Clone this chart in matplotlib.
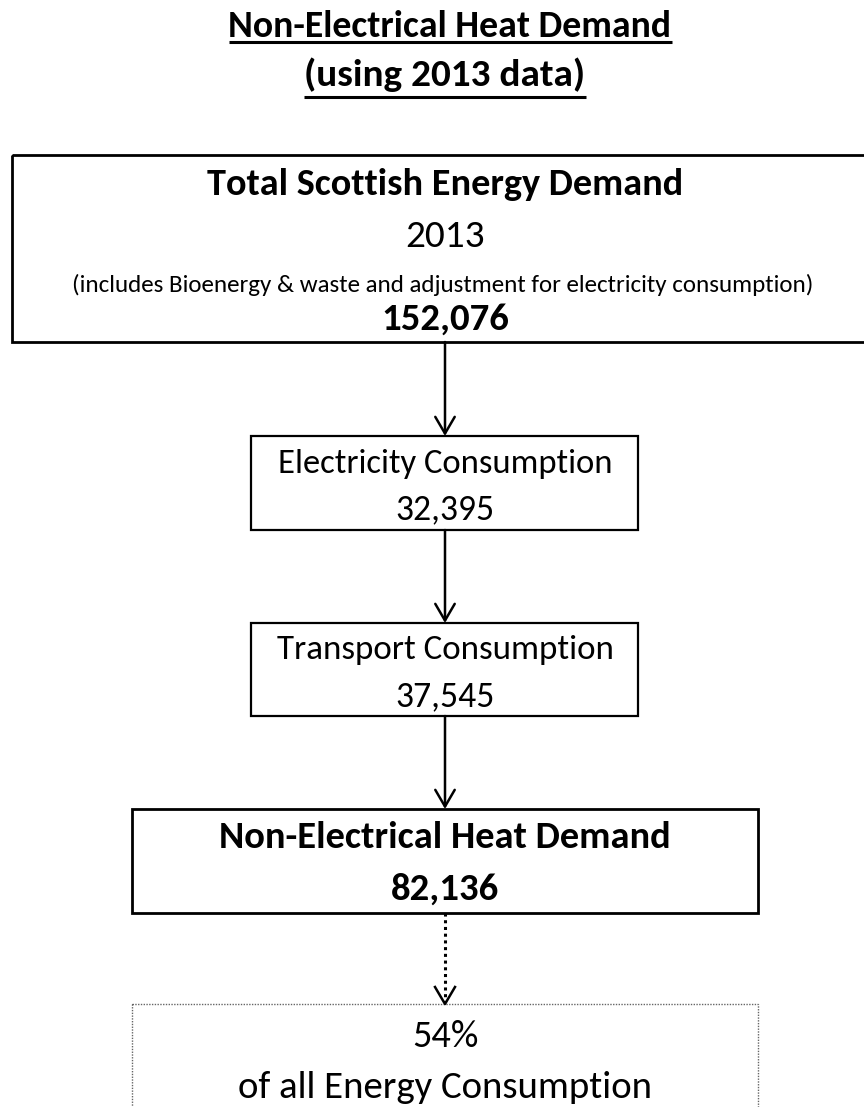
import matplotlib
matplotlib.use("Agg")
import matplotlib.pyplot as plt
from matplotlib.patches import Rectangle

# ---- data ----
title_lines = ["Non-Electrical Heat Demand", "(using 2013 data)"]
box_labels = ["Total Scottish Energy Demand", "Electricity Consumption",
              "Transport Consumption", "Non-Electrical Heat Demand"]
box_values = [152076, 32395, 37545, 82136]
year = 2013
note = "(includes Bioenergy & waste and adjustment for electricity consumption)"
share_pct = 54
share_text = "of all Energy Consumption"

FONT = ["Carlito", "Lato", "DejaVu Sans"]
W, H = 864, 1107
fig = plt.figure(figsize=(W / 100, H / 100), dpi=100)
ax = fig.add_axes([0, 0, 1, 1])
ax.set_xlim(0, W)
ax.set_ylim(H, 0)
ax.axis("off")
renderer = fig.canvas.get_renderer()


def fitted(x, y, s, width, bold=False, underline=False, ul_y=None):
    t = ax.text(x, y, s, ha="center", va="baseline", fontsize=20,
                family=FONT, fontweight="bold" if bold else "normal", color="black")
    bb = t.get_window_extent(renderer)
    t.set_fontsize(20 * width / bb.width)
    if underline:
        bb = t.get_window_extent(renderer)
        ax.plot([x - bb.width / 2, x + bb.width / 2], [ul_y, ul_y], color="black", lw=2.2,
                solid_capstyle="butt")
    return t


def arrow(x, y0, y1, dotted=False):
    if dotted:
        ax.plot([x, x], [y0, y1 - 2], color="black", lw=2.2, linestyle=(0, (1, 1.2)))
        ax.plot([x - 10, x, x + 10], [y1 - 17, y1, y1 - 17], color="black", lw=1.8)
    else:
        ax.annotate("", xy=(x, y1), xytext=(x, y0),
                    arrowprops=dict(arrowstyle="->,head_length=0.6,head_width=0.35",
                                    mutation_scale=20, lw=1.8, color="black",
                                    shrinkA=0, shrinkB=0))


def box(x0, y0, x1, y1, lw=1.6, ls="-", ec="black"):
    ax.add_patch(Rectangle((x0, y0), x1 - x0, y1 - y0, fill=False, lw=lw,
                           linestyle=ls, edgecolor=ec, clip_on=True))


cx = 445

# title
fitted(450, 37, title_lines[0], 444, bold=True, underline=True, ul_y=42)
fitted(445, 86, title_lines[1], 281, bold=True, underline=True, ul_y=97)

# top box
box(12, 155, 900, 342, lw=2.0)
fitted(cx, 195, box_labels[0], 476, bold=True)
fitted(cx, 247, str(year), 80)
fitted(443, 292, note, 741)
fitted(cx, 330, f"{box_values[0]:,}", 128, bold=True)

# electricity
arrow(cx, 342, 436)
box(251, 436, 638, 530)
fitted(cx, 473, box_labels[1], 335)
fitted(cx, 519, f"{box_values[1]:,}", 99)

# transport
arrow(cx, 530, 623)
box(251, 623, 638, 716)
fitted(cx, 659, box_labels[2], 338)
fitted(cx, 706, f"{box_values[2]:,}", 99)

# non-electrical heat
arrow(cx, 716, 809)
box(132, 809, 758, 913, lw=2.0)
fitted(cx, 848, box_labels[3], 452, bold=True)
fitted(cx, 900, f"{box_values[3]:,}", 108, bold=True)

# share box
arrow(cx, 913, 1004, dotted=True)
box(132, 1004, 758, 1130, lw=1.0, ls=(0, (1, 1)), ec="0.4")
fitted(cx, 1047, f"{share_pct}%", 66)
fitted(cx, 1098, share_text, 415)

fig.savefig("out.png", dpi=100)
